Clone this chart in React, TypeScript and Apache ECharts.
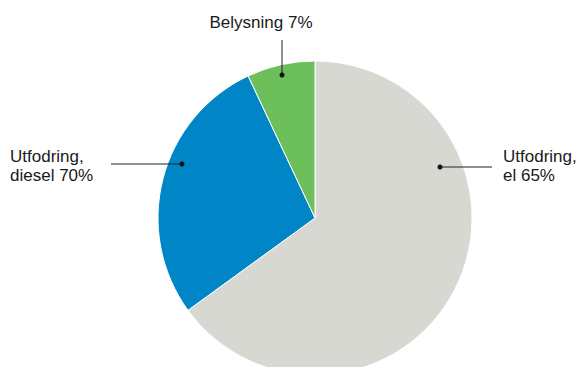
import React, { useEffect, useRef } from "react";
import * as echarts from "echarts";

const categories = ["Utfodring,\nel 65%", "Utfodring,\ndiesel 70%", "Belysning 7%"];
const values = [65, 28, 7];
const colors = ["#d8d8d3", "#0085c6", "#6dbf5c"];

// annotation geometry (label anchor, leader line points)
const labelPos = [
  { x: 503, y: 166, align: "left", line: [[440, 167], [492, 167]] },
  { x: 10, y: 166, align: "left", line: [[182, 164], [111, 164]] },
  { x: 261, y: 22, align: "center", line: [[282, 75], [282, 40]] },
];

export default function App() {
  const ref = useRef<HTMLDivElement>(null);
  useEffect(() => {
    const chart = echarts.init(ref.current!, null, { renderer: "svg" });
    const graphics: any[] = [];
    labelPos.forEach((l) => {
      graphics.push({
        type: "polyline",
        shape: { points: l.line },
        style: { stroke: "#222222", lineWidth: 1, fill: null },
        z: 100,
      });
      graphics.push({
        type: "circle",
        shape: { cx: l.line[0][0], cy: l.line[0][1], r: 2.5 },
        style: { fill: "#111111" },
        z: 101,
      });
    });
    chart.setOption({
      animation: false,
      backgroundColor: "#ffffff",
      series: [
        {
          type: "pie",
          center: [315, 218],
          radius: 157,
          startAngle: 90,
          clockwise: true,
          avoidLabelOverlap: false,
          itemStyle: { borderColor: "#ffffff", borderWidth: 1 },
          label: {
            show: true,
            formatter: (p: any) => categories[p.dataIndex],
            color: "#1a1a1a",
            fontSize: 17,
            lineHeight: 19,
            fontFamily: "Liberation Sans",
          },
          labelLine: { show: false },
          labelLayout: (params: any) => {
            const l = labelPos[params.dataIndex];
            return {
              x: l.x,
              y: l.y,
              align: l.align,
              verticalAlign: "middle",
            };
          },
          data: values.map((v, i) => ({
            value: v,
            name: categories[i],
            itemStyle: { color: colors[i] },
          })),
        },
      ],
      graphic: graphics,
    });
    return () => chart.dispose();
  }, []);
  return (
    <div
      ref={ref}
      style={{ position: "fixed", left: 0, top: 0, width: 582, height: 367 }}
    />
  );
}
